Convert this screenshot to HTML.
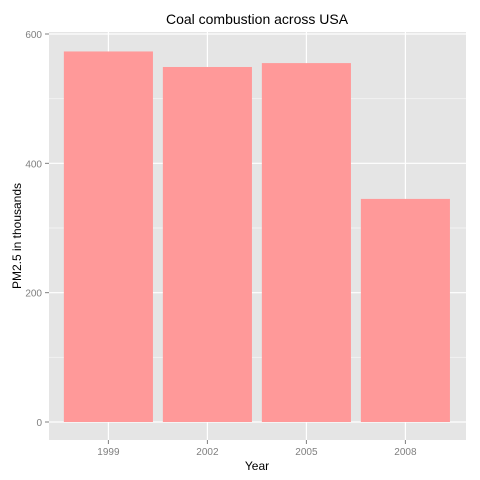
<!DOCTYPE html>
<html><head><meta charset="utf-8"><style>body{margin:0;background:#fff}svg{display:block;font-family:"Liberation Sans",sans-serif}</style></head>
<body>
<svg id="chart" width="480" height="480" xmlns="http://www.w3.org/2000/svg">
<rect x="49" y="32" width="417" height="408" fill="#e5e5e5"/>
<g id="grid"></g>
<g id="bars"></g>
<g id="axes"></g>
<text x="257" y="24" text-anchor="middle" font-size="14" fill="#000">Coal combustion across USA</text>
<text x="257" y="470" text-anchor="middle" font-size="12" fill="#000">Year</text>
<text transform="translate(21,236) rotate(-90)" text-anchor="middle" font-size="12" fill="#000">PM2.5 in thousands</text>
</svg>
<script>
const categories = ["1999","2002","2005","2008"];
const values = [573, 549, 555, 345];
const yTicks = [0, 200, 400, 600];
const yMinor = [100, 300, 500];
const NS = "http://www.w3.org/2000/svg";
const y = v => 422 - v * (388 / 600);
const band = 99, left = 49;
const xc = i => left + band * 0.6 + i * band;
function mk(tag, attrs, parent, text) {
  const e = document.createElementNS(NS, tag);
  for (const k in attrs) e.setAttribute(k, attrs[k]);
  if (text !== undefined) e.textContent = text;
  document.getElementById(parent).appendChild(e);
  return e;
}
yMinor.forEach(v => {
  const l = mk("line", {x1: 49, x2: 466, y1: y(v), y2: y(v), stroke: "#f2f2f2", "stroke-width": 1}, "grid");
  
  
});
yTicks.forEach(v => {
  const l = mk("line", {x1: 49, x2: 466, y1: y(v), y2: y(v), stroke: "#fff", "stroke-width": 1.2}, "grid");
  
  
  const t = mk("line", {x1: 45, x2: 49, y1: y(v), y2: y(v), stroke: "#7f7f7f"}, "axes");
  
  
  const lb = mk("text", {x: 42, y: y(v) + 4, "text-anchor": "end", "font-size": 10, fill: "#7f7f7f"}, "axes", v);
  
  
});
categories.forEach((c, i) => {
  const g = mk("line", {x1: xc(i), x2: xc(i), y1: 32, y2: 440, stroke: "#fff", "stroke-width": 1.2}, "grid");
  
  
  const b = mk("rect", {x: xc(i) - band * 0.45, width: band * 0.9, y: y(values[i]), height: y(0) - y(values[i]), fill: "#ff9999"}, "bars");
  
  
  const t = mk("line", {x1: xc(i), x2: xc(i), y1: 440, y2: 444, stroke: "#7f7f7f"}, "axes");
  
  
  const lb = mk("text", {x: xc(i), y: 455, "text-anchor": "middle", "font-size": 10, fill: "#7f7f7f"}, "axes", c);
  
  
});
</script>
</body></html>
